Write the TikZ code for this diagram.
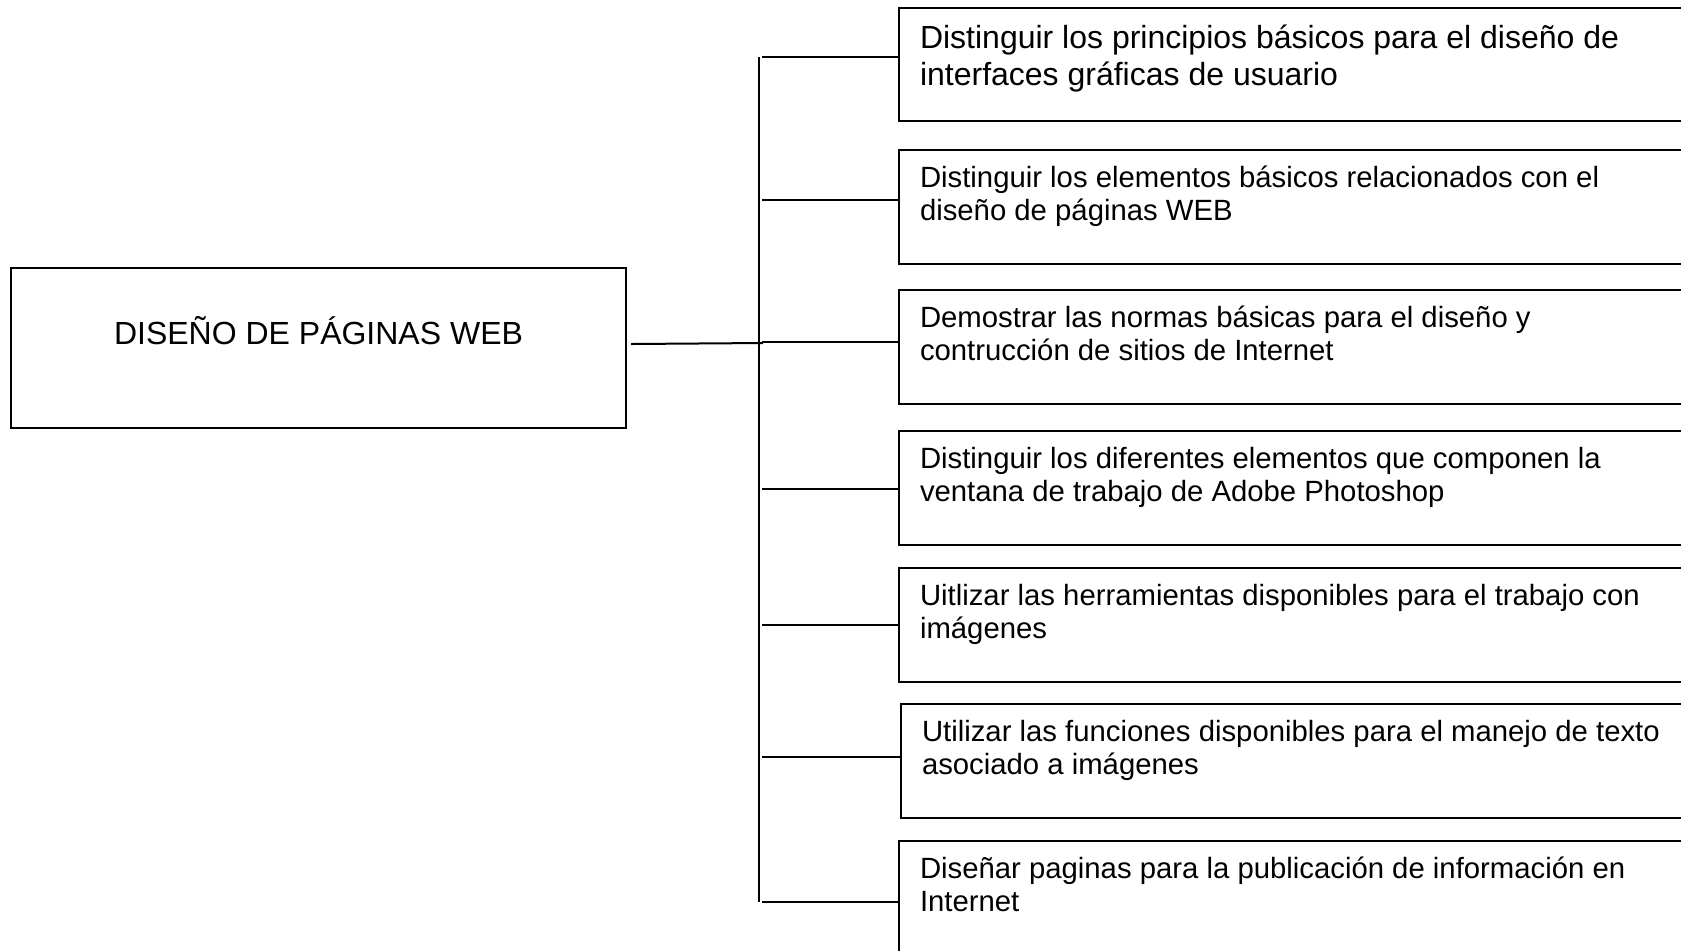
\documentclass[tikz,border=0pt]{standalone}
\usepackage{fontspec}
\setmainfont{Liberation Sans}
\usetikzlibrary{calc}

\begin{document}
\begin{tikzpicture}[x=0.5pt,y=-0.5pt,line width=1pt,
    tema/.style={draw, anchor=north west, inner sep=0pt, minimum width=307.5pt,
        text height=38.25pt, text depth=41.75pt, font=\fontsize{16}{18.5}\selectfont},
    meta/.style={draw, anchor=north west, align=flush left, inner ysep=0pt, inner xsep=10.5pt,
        text width=420pt, text height=18.5pt, text depth=38.25pt, font=\fontsize{14.65}{16.85}\selectfont}]
            \path[use as bounding box, clip] (0,0) rectangle (1681,950);
            \node[tema] (tema) at (10,267) {DISEÑO DE PÁGINAS WEB};
            \node[meta, font=\fontsize{16}{18.8}\selectfont, text height=20pt, text depth=36.5pt] (m1) at (898,7) {Distinguir los principios básicos para el diseño de\\interfaces gráficas de usuario};
            \node[meta] (m2) at (898,149) {Distinguir los elementos básicos relacionados con el\\diseño de páginas WEB};
            \node[meta] (m3) at (898,289) {Demostrar las normas básicas para el diseño y\\contrucción de sitios de Internet};
            \node[meta] (m4) at (898,430) {Distinguir los diferentes elementos que componen la\\ventana de trabajo de Adobe Photoshop};
            \node[meta] (m5) at (898,567) {Uitlizar las herramientas disponibles para el trabajo con\\imágenes};
            \node[meta] (m6) at (900,703) {Utilizar las funciones disponibles para el manejo de texto\\asociado a imágenes};
            \node[meta] (m7) at (898,840) {Diseñar paginas para la publicación de información en\\Internet};
            \coordinate (bus-top) at (759,57);
            \coordinate (bus-bot) at (759,902);
            \coordinate (nudo) at (763,343);
            \draw (bus-top) -- (bus-bot);
            \draw ([xshift=2pt,yshift=2pt]tema.east) -- (nudo);
            \foreach \i/\y in {1/57,2/200,3/342,4/489,5/625,6/757,7/902} {
                \coordinate (r\i) at (762,\y);
                \draw (r\i) -- (r\i -| m\i.west);
            }
            % \draw (bus-top) -- (m1.west);
        \end{tikzpicture}
\end{document}
